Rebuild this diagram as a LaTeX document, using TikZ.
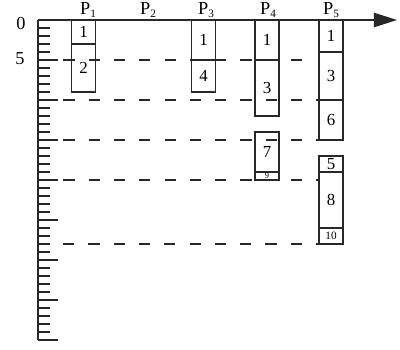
\documentclass[tikz,border=0pt]{standalone}
\usepackage{fontspec}
\setmainfont{Liberation Serif}
\usetikzlibrary{arrows.meta, positioning}
\definecolor{ink}{RGB}{40,40,40}
\newcommand{\proc}[1]{P\raisebox{-0.35ex}{\fontsize{8}{8}\selectfont #1}}

\begin{document}
\begin{tikzpicture}[
    x=0.025cm, y=-0.025cm,
    axis/.style={line width=1.1pt, ink},
    tick/.style={line width=0.9pt, ink},
    guide/.style={line width=0.9pt, ink, dash pattern=on 8pt off 10pt},
    seg/.style={rectangle, draw=ink, line width=0.9pt, minimum width=0.6cm, inner sep=0pt, outer sep=0pt, anchor=north, font=\fontsize{12}{12}\selectfont},
    tiny/.style={seg, font=\fontsize{6}{6}\selectfont},
    lbl/.style={font=\fontsize{13}{13}\selectfont, inner sep=0pt},
]
\useasboundingbox (0,0) rectangle (400,349);

% axes
\coordinate (orig) at (38,20);
\coordinate (tend) at (397,20);
\coordinate (yend) at (38,340);
\draw[axis, -{Triangle[length=0.58cm, width=0.36cm]}] (orig) -- (tend);
\draw[axis] (orig) -- (yend);
\foreach \k in {1,...,40}
    \draw[tick] (38,{20+8*\k}) -- ++(12,0);
\foreach \k in {5,10,...,40}
    \draw[tick] (38,{20+8*\k}) -- ++(20,0);

\node[lbl] (t0) at (21,24) {0};
\node[lbl] (t5) at (20,59) {5};

% process labels
\node[lbl] (lp1) at (88,10) {\proc{1}};
\node[lbl] (lp2) at (148,10) {\proc{2}};
\node[lbl] (lp3) at (206,10) {\proc{3}};
\node[lbl] (lp4) at (268,10) {\proc{4}};
\node[lbl] (lp5) at (331,10) {\proc{5}};

% guide lines
\foreach \t/\e in {5/312, 10/319, 15/319, 20/319}
    \draw[guide] (38,{20+8*\t}) -- (\e,{20+8*\t});
\draw[guide] (63,244) -- (319,244);

% P1
\node[seg, minimum height=0.6cm] (p1a) at (83.5,20) {1};
\node[seg, minimum height=1.2cm] (p1b) at (p1a.south) {2};

% P3
\node[seg, minimum height=1.0cm] (p3a) at (203.5,20) {1};
\node[seg, minimum height=0.8cm] (p3b) at (p3a.south) {4};

% P4
\node[seg, minimum height=1.0cm] (p4a) at (267,20) {1};
\node[seg, minimum height=1.4cm] (p4b) at (p4a.south) {3};
\node[seg, minimum height=1.0cm] (p4c) at (267,132) {7};
\node[tiny, minimum height=0.2cm] (p4d) at (p4c.south) {9};

% P5
\node[seg, minimum height=0.8cm] (p5a) at (331,20) {1};
\node[seg, minimum height=1.2cm] (p5b) at (p5a.south) {3};
\node[seg, minimum height=1.0cm] (p5c) at (p5b.south) {6};
\node[seg, minimum height=0.4cm] (p5d) at (331,156) {5};
\node[seg, minimum height=1.4cm] (p5e) at (p5d.south) {8};
\node[tiny, minimum height=0.4cm, font=\fontsize{8}{8}\selectfont] (p5f) at (p5e.south) {10};

\end{tikzpicture}
\end{document}
